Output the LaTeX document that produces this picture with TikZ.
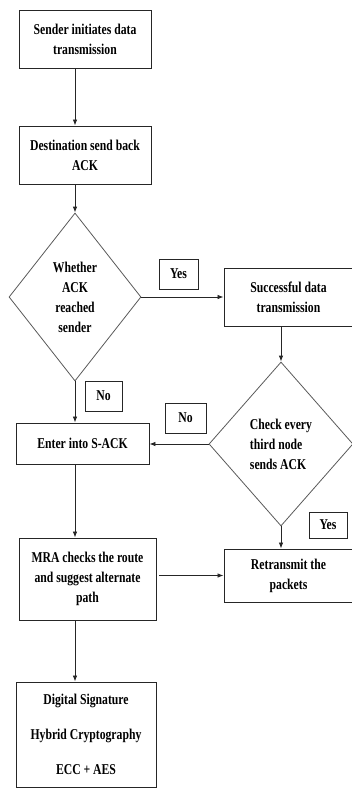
\documentclass[tikz,border=0pt]{standalone}
\usepackage{fontspec}
\setmainfont{Liberation Serif}[FakeStretch=0.78]
\usetikzlibrary{shapes.geometric,arrows.meta}

\begin{document}
\begin{tikzpicture}[x=1pt,y=-1pt,
  font=\fontsize{15}{20}\selectfont\bfseries,
  box/.style={draw=black!85,line width=0.9pt,inner sep=0pt,align=center},
  test/.style={diamond,draw=black!65,line width=0.8pt,inner sep=0pt,align=center},
  tag/.style={draw=black!85,line width=0.8pt,inner sep=0pt},
  arr/.style={draw=black!85,line width=0.8pt,-{Latex[length=6pt,width=4.5pt]}}]
  \path[use as bounding box] (0,0) rectangle (352,788);
  \clip (0,0) rectangle (352,788);

  % left column
  \node[box,minimum width=132pt,minimum height=58pt] (send) at (85,39) {Sender initiates data\\transmission};
  \node[box,minimum width=132pt,minimum height=58pt] (dest) at (85,155) {Destination send back\\ACK};
  \node[test,minimum width=132pt,minimum height=168pt] (reach) at (75,297) {Whether\\ACK\\reached\\sender};
  \node[box,minimum width=133pt,minimum height=41pt] (sack) at (82.5,443.5) {Enter into S-ACK};
  \node[box,minimum width=137pt,minimum height=82pt] (mra) at (87.5,579) {MRA checks the route\\and suggest alternate\\path};
  \node[box,minimum width=140pt,minimum height=105pt] (sign) at (86,734.5) {Digital Signature\\[15pt]Hybrid Cryptography\\[15pt]ECC + AES};

  % right column
  \node[box,minimum width=129pt,minimum height=58pt] (succ) at (288.5,297) {Successful data\\transmission};
  \node[test,align=left,minimum width=144pt,minimum height=164pt] (third) at (281,444) {Check every\\third node\\sends ACK};
  \node[box,minimum width=129pt,minimum height=53pt] (retx) at (288.5,575.5) {Retransmit the\\packets};

  % yes / no tags
  \node[tag,minimum width=39pt,minimum height=30pt] (yes1) at (178.5,274) {Yes};
  \node[tag,minimum width=37pt,minimum height=30pt] (no1) at (103.5,396) {No};
  \node[tag,minimum width=41pt,minimum height=30pt] (no2) at (185.5,418) {No};
  \node[tag,minimum width=38pt,minimum height=26pt] (yes2) at (328,525) {Yes};

  \draw[arr] (send.south -| reach.north) -- (dest.north -| reach.north);
  \draw[arr] (dest.south -| reach.north) -- (reach.north);
  \draw[arr] (reach.east) -- (succ.west |- reach.east);
  \draw[arr] (succ.south -| third.north) -- (third.north);
  \draw[arr] (reach.south) -- (sack.north -| reach.south);
  \draw[arr] (third.west) -- (sack.east |- third.west);
  \draw[arr] (third.south) -- (retx.north -| third.south);
  \draw[arr] (sack.south -| reach.south) -- (mra.north -| reach.south);
  \draw[arr] ([xshift=3pt]mra.east |- retx.west) -- (retx.west);
  \draw[arr] (mra.south -| reach.south) -- (sign.north -| reach.south);
\end{tikzpicture}
\end{document}
